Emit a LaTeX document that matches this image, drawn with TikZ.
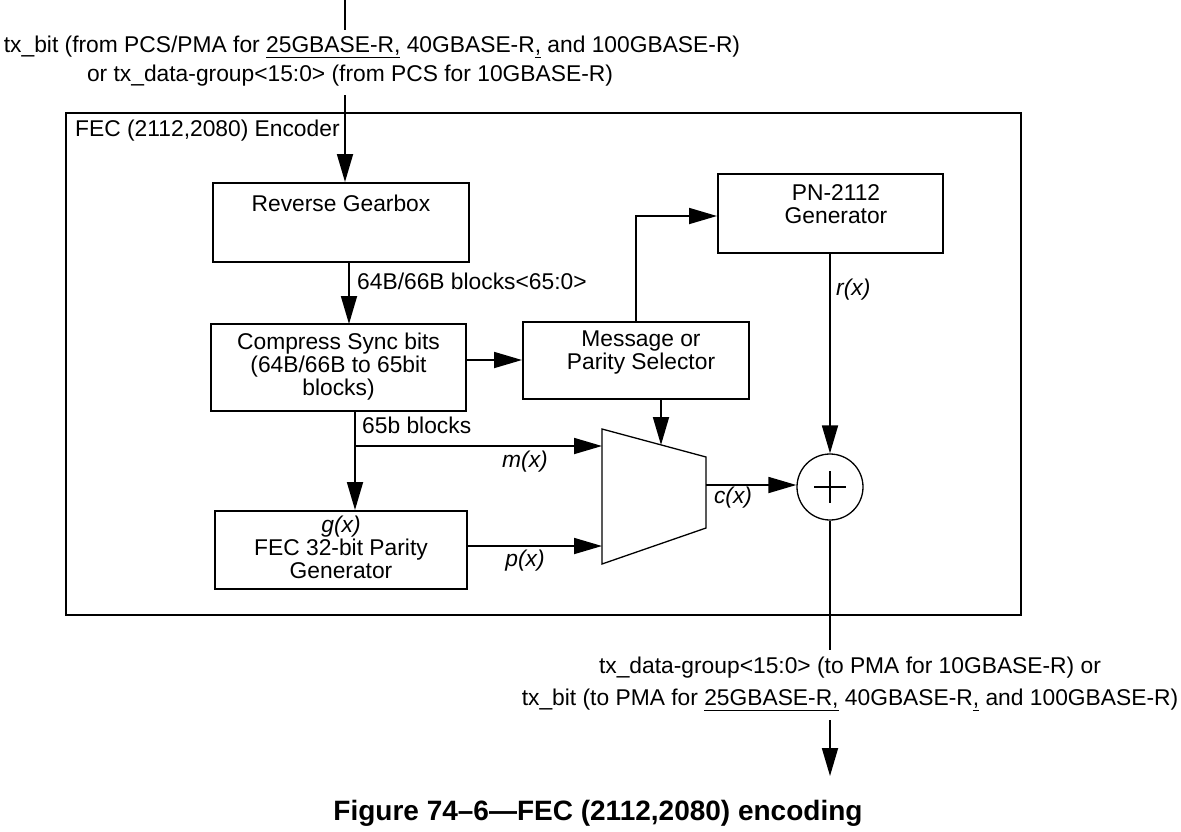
\documentclass[tikz,border=0pt]{standalone}
\usepackage{fontspec}
\setmainfont{Liberation Sans}
\usetikzlibrary{arrows.meta,calc}
\tikzset{
  wire/.style={line width=1.8pt},
  arr/.style={wire,-{Triangle[length=28pt,width=16pt]}},
  box/.style={draw,line width=2pt,inner sep=0pt},
  txt/.style={font=\fontsize{22.8}{23}\selectfont,align=center,inner sep=0pt},
  lbl/.style={font=\fontsize{22.8}{23}\selectfont\itshape,inner sep=0pt},
  thin/.style={line width=1.3pt}
}
\begin{document}
\begin{tikzpicture}[x=1pt,y=-1pt]
\useasboundingbox (0,0) rectangle (1181,831);
% outer frame
\node[box,minimum width=955pt,minimum height=502pt] (frame) at (543.5,364) {};
\node[txt,anchor=west] (frametitle) at (75,131) {FEC (2112,2080) Encoder};
% blocks
\node[box,minimum width=256pt,minimum height=79pt] (rg) at (341,222.5) {};
\node[txt] (rgt) at (341,203) {Reverse Gearbox};
\node[box,minimum width=255pt,minimum height=87pt] (cs) at (338.5,367.5) {};
\node[txt] (cst) at (338.5,367) {Compress Sync bits\\(64B/66B to 65bit\\blocks)};
\node[box,minimum width=252pt,minimum height=78pt] (fp) at (341,550) {};
\node[txt] (fpt) at (341,547) {\itshape g(x)\\FEC 32-bit Parity\\Generator};
\node[box,minimum width=226pt,minimum height=77pt] (ms) at (636,360.5) {};
\node[txt] (mst) at (641,353) {Message or\\Parity Selector};
\node[box,minimum width=225pt,minimum height=79pt] (pn) at (830.5,213.5) {};
\node[txt] (pnt) at (836,204.5) {PN-2112\\Generator};
% mux
\coordinate (m1) at (602,429);
\coordinate (m2) at (706,457);
\coordinate (m3) at (706,528);
\coordinate (m4) at (602,564);
\draw[thin] (m1)--(m2)--(m3)--(m4)--cycle;
\coordinate (msel) at (661,445);
% xor
\node[draw,thin,circle,minimum size=66pt,inner sep=0pt] (xor) at (830,487) {};
\draw[thin] ($(xor.center)+(-16,0)$) -- ($(xor.center)+(16,0)$);
\draw[thin] ($(xor.center)+(0,-16)$) -- ($(xor.center)+(0,16)$);
% input
\coordinate (tin) at (345,0);
\coordinate (tin2) at (345,95);
\draw[wire] (tin) -- (345,30);
\node[txt] (intxt1) at (372,47) {tx\_bit (from PCS/PMA for \underline{25GBASE-R,} 40GBASE-R\underline{,} and 100GBASE-R)};
\node[txt] (intxt2) at (350,76) {or tx\_data-group<15:0> (from PCS for 10GBASE-R)};
\draw[arr] (tin2) -- (rg.north -| tin2);
% rg -> cs
\draw[arr] (349,262) -- (349,324);
\node[txt,anchor=west] (l64) at (357,281) {64B/66B blocks<65:0>};
% cs -> ms
\draw[arr] (cs.east |- 0,360) -- (ms.west |- 0,360);
% cs -> fp and branch
\coordinate (br) at (355,446);
\draw[arr] (355,411) -- (fp.north -| br);
\draw[arr] (br) -- (m1 |- br);
\node[txt,anchor=west] (l65) at (362,425) {65b blocks};
\node[lbl] (lm) at (525,462) {m(x)};
% fp -> mux
\draw[arr] (fp.east |- 0,546) -- (m4 |- 0,546);
\node[lbl] (lp) at (525,561) {p(x)};
% ms -> pn
\coordinate (corner) at (636,216);
\draw[arr] (ms.north -| corner) -- (corner) -- (pn.west |- corner);
% ms -> mux select
\draw[arr] (ms.south -| msel) -- (msel);
% pn -> xor
\draw[arr] (pn.south -| xor) -- (xor.north);
\node[lbl,anchor=west] (lr) at (836,290) {r(x)};
% mux -> xor
\draw[arr] (m2 |- 0,485) -- (xor.west |- 0,485);
\node[lbl] (lc) at (733,498) {c(x)};
% output
\coordinate (o1) at (830,650);
\coordinate (o2) at (830,720);
\coordinate (o3) at (830,776);
\draw[wire] (xor.south) -- (o1);
\draw[arr] (o2) -- (o3);
\node[txt] (outtxt1) at (850,668) {tx\_data-group<15:0> (to PMA for 10GBASE-R) or};
\node[txt] (outtxt2) at (850,700) {tx\_bit (to PMA for \underline{25GBASE-R,} 40GBASE-R\underline{,} and 100GBASE-R)};
% caption
\node[font=\fontsize{28}{30}\selectfont\bfseries,inner sep=0pt] (cap) at (598,813) {Figure 74–6—FEC (2112,2080) encoding};
\end{tikzpicture}
\end{document}
